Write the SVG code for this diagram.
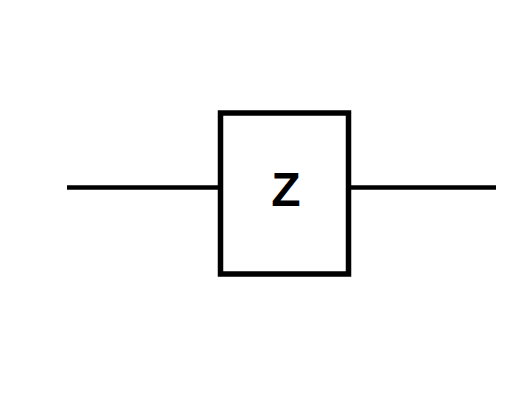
<svg xmlns="http://www.w3.org/2000/svg" width="526" height="401" viewBox="0 0 526 401">
<style>
.ln{stroke:#000;stroke-width:4.5;fill:none}
.bx{stroke:#000;stroke-width:5.5;fill:#fff}
.t{font-family:"Liberation Sans",Arial,sans-serif;font-weight:bold;font-size:48px;fill:#000}
</style>
<rect width="526" height="401" fill="#fff"/>
<g id="connectors">
<line class="ln" x1="67" y1="187.5" x2="220" y2="187.5"/>
<line class="ln" x1="348" y1="187.5" x2="496" y2="187.5"/>
</g>
<g id="z">
<rect class="bx" x="220.5" y="113" width="128" height="161"/>
<text class="t" x="286" y="206" text-anchor="middle">Z</text>
</g>
</svg>
